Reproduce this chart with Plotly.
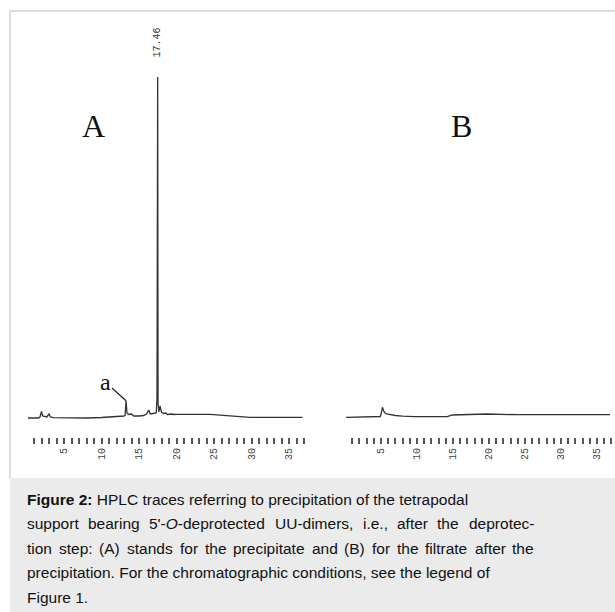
import re
import plotly.graph_objects as go

# ---- data (retention time in min, detector signal in arbitrary units) ----
time_a = [0.2, 1.6, 1.8, 2.0, 2.15, 2.4, 2.7, 3.0, 3.2, 3.6, 5.0, 8.0, 10.0, 12.0, 13.0, 13.15,
          13.27, 13.4, 13.6, 14.0, 14.3, 15.0, 15.6, 16.0, 16.3, 16.5, 16.9, 17.3, 17.40,
          17.44, 17.49, 17.54, 17.65, 17.8, 18.0, 18.3, 18.55, 18.8, 19.1, 19.35, 19.6, 20.0,
          24.5, 29.8, 36.8]
signal_a = [0.0, 0.0, 1.0, 6.5, 2.0, 1.5, 1.0, 4.0, 1.0, 0.3, 0.0, 0.0, 0.5, 1.3, 2.0, 3.0,
            17.3, 5.0, 3.5, 4.0, 2.0, 2.0, 2.5, 4.0, 8.0, 4.0, 4.5, 5.0, 20.0,
            341.0, 341.0, 15.0, 6.0, 12.0, 6.0, 4.5, 5.0, 3.5, 4.0, 4.0, 3.5, 3.7,
            3.7, 0.7, 0.7]

time_b = [0.15, 2.0, 4.0, 4.9, 5.05, 5.2, 5.35, 5.5, 5.8, 6.2, 7.0, 8.0, 9.6, 14.2, 14.9,
          19.7, 23.9, 36.8]
signal_b = [0.7, 0.9, 1.3, 1.5, 5.0, 10.7, 7.5, 5.5, 4.0, 3.3, 2.5, 1.8, 1.3, 1.3, 3.0,
            4.0, 3.3, 3.3]

tick_minutes = list(range(1, 38))
tick_labels = [str(m) if m % 5 == 0 else "" for m in tick_minutes]

main_peak_time = 17.46
main_peak_label = "17.46"
peak_a_time = 13.27
peak_a_signal = 17.3

caption_lines = [
    "<b>Figure 2:</b> HPLC traces referring to precipitation of the tetrapodal",
    "support bearing 5'-<i>O</i>-deprotected UU-dimers, i.e., after the deprotec-",
    "tion step: (A) stands for the precipitate and (B) for the filtrate after the",
    "precipitation. For the chromatographic conditions, see the legend of",
    "Figure 1.",
]
caption_justified = [False, True, True, False, False]

W, H = 615, 612
def px(x):
    return x / W
def py(y):
    return 1 - y / H

# Arial / Liberation Sans advance widths (per 1000 em) for justification
ARIAL = {' ': 278, "'": 191, '-': 333, ',': 278, '.': 278, ':': 278, '(': 333, ')': 333}
for c in 'abdeghnopqu':
    ARIAL[c] = 556
for c in 'ckvxyzs':
    ARIAL[c] = 500
ARIAL.update({'f': 278, 't': 278, 'i': 222, 'j': 222, 'l': 222, 'm': 833, 'r': 333, 'w': 722})
ARIAL.update({'A': 667, 'B': 667, 'O': 778, 'U': 722, 'F': 611, 'H': 722, 'P': 667,
              'L': 556, 'C': 722, 'T': 611})
for c in '0123456789':
    ARIAL[c] = 556

def text_width(s, size):
    plain = re.sub(r"<[^>]+>", "", s)
    return sum(ARIAL.get(ch, 556) for ch in plain) * size / 1000.0

line_color = "#333333"

fig = go.Figure()
fig.add_trace(go.Scatter(x=time_a, y=signal_a, mode="lines", xaxis="x", yaxis="y",
                         line=dict(color=line_color, width=1.3), showlegend=False,
                         hoverinfo="skip"))
fig.add_trace(go.Scatter(x=time_b, y=signal_b, mode="lines", xaxis="x2", yaxis="y2",
                         line=dict(color=line_color, width=1.3), showlegend=False,
                         hoverinfo="skip"))

xaxis_common = dict(showgrid=False, zeroline=False, showline=False, ticks="outside",
                    ticklen=6, tickwidth=1.5, tickcolor="#555555",
                    tickmode="array", tickvals=tick_minutes, ticktext=tick_labels,
                    tickangle=-90, tickfont=dict(family="Liberation Mono", size=10,
                                                 color="#444444"),
                    fixedrange=True)
yaxis_common = dict(visible=False, range=[-19, 403], domain=[py(437), py(15)],
                    fixedrange=True)

fig.update_layout(
    width=W, height=H, margin=dict(l=0, r=0, t=0, b=0),
    paper_bgcolor="white", plot_bgcolor="rgba(0,0,0,0)",
    xaxis=dict(domain=[px(20), px(310)], range=[5 + (20 - 64) / 7.5, 5 + (310 - 64) / 7.5],
               anchor="y", **xaxis_common),
    xaxis2=dict(domain=[px(340), px(614)], range=[5 + (340 - 381) / 7.2, 5 + (614 - 381) / 7.2],
                anchor="y2", **xaxis_common),
    yaxis=dict(anchor="x", **yaxis_common),
    yaxis2=dict(anchor="x2", **yaxis_common),
)

shapes = [
    dict(type="rect", xref="paper", yref="paper", x0=px(10), x1=1, y0=0, y1=py(478),
         fillcolor="#ebebeb", line=dict(width=0), layer="below"),
    dict(type="line", xref="paper", yref="paper", x0=px(10), x1=1, y0=py(11), y1=py(11),
         line=dict(color="#dcdcdc", width=2)),
    dict(type="line", xref="paper", yref="paper", x0=px(10), x1=px(10), y0=py(11), y1=py(478),
         line=dict(color="#dcdcdc", width=2)),
]
fig.update_layout(shapes=shapes)

ann = []
ann.append(dict(xref="paper", yref="paper", x=px(93), y=py(126), text="A", showarrow=False,
                font=dict(family="Liberation Serif", size=32, color="#111111"),
                xanchor="center", yanchor="middle"))
ann.append(dict(xref="paper", yref="paper", x=px(461), y=py(126), text="B", showarrow=False,
                font=dict(family="Liberation Serif", size=32, color="#111111"),
                xanchor="center", yanchor="middle"))
ann.append(dict(xref="x", yref="y", x=main_peak_time, y=418 - 42, text=main_peak_label,
                showarrow=False, textangle=-90,
                font=dict(family="Liberation Mono", size=10, color="#333333"),
                xanchor="center", yanchor="middle"))
ann.append(dict(xref="x", yref="y", x=peak_a_time, y=peak_a_signal, text="a",
                showarrow=True, arrowhead=0, arrowwidth=1.2, arrowcolor="#222222",
                ax=-21, ay=-19,
                font=dict(family="Liberation Serif", size=24, color="#111111")))

cap_size = 15.5
cap_left = 25
cap_right = 532
cap_font = dict(family="Liberation Sans", size=cap_size, color="#111111")
caption_centers = [499, 523.5, 548, 572.5, 597]
for line, just, cy in zip(caption_lines, caption_justified, caption_centers):
    if not just:
        ann.append(dict(xref="paper", yref="paper", x=px(cap_left), y=py(cy), text=line,
                        showarrow=False, xanchor="left", yanchor="middle", font=cap_font))
        continue
    words = line.split(" ")
    widths = [text_width(w, cap_size) for w in words]
    natural_gap = ARIAL[' '] * cap_size / 1000.0
    gap = max(natural_gap, (cap_right - cap_left - sum(widths)) / (len(words) - 1))
    x = cap_left
    for w, wd in zip(words, widths):
        ann.append(dict(xref="paper", yref="paper", x=px(x), y=py(cy), text=w,
                        showarrow=False, xanchor="left", yanchor="middle", font=cap_font))
        x += wd + gap
fig.update_layout(annotations=ann)

fig.write_html("out.html")
